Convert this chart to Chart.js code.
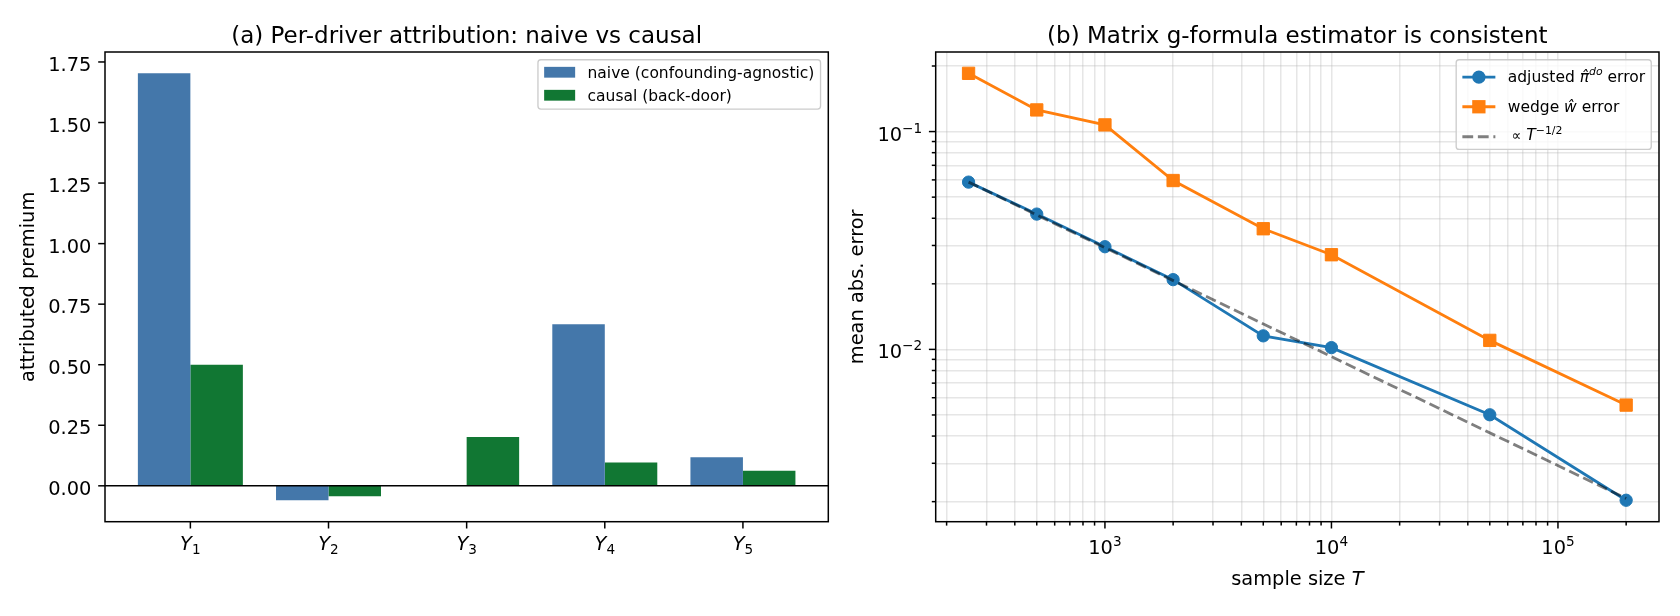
<!DOCTYPE html>
<html>
<head>
<meta charset="utf-8">
<script src="https://cdn.jsdelivr.net/npm/chart.js@4.4.0/dist/chart.umd.min.js"></script>
<style>
  body { margin: 0; background: #fff; width: 1680px; height: 616px; overflow: hidden; position: relative; }
  canvas { position: absolute; top: 0; }
  #left { left: 0; }
  #right { left: 840px; }
</style>
</head>
<body>
<canvas id="left" width="840" height="616"></canvas>
<canvas id="right" width="840" height="616"></canvas>
<script>
// (a) attribution per driver
const drivers = ['1', '2', '3', '4', '5'];
const naive = [1.703, -0.060, 0.0, 0.667, 0.118];
const causal = [0.500, -0.043, 0.202, 0.096, 0.062];
const premiumTicks = [0, 0.25, 0.5, 0.75, 1.0, 1.25, 1.5, 1.75];

// (b) estimator error vs sample size
const sampleSizes = [250, 500, 1000, 2000, 5000, 10000, 50000, 200000];
const adjustedErr = [0.0586, 0.0418, 0.0296, 0.0209, 0.01154, 0.01019, 0.00501, 0.00203];
const wedgeErr = [0.1851, 0.1257, 0.1073, 0.0596, 0.0358, 0.0272, 0.0110, 0.00555];
const refT = [250, 200000];
const refErr = [0.0586, 0.00207];
const xMajor = [1e3, 1e4, 1e5];
const xMajorExp = ['3', '4', '5'];
const yMajor = [1e-2, 1e-1];
const yMajorExp = ['\u22122', '\u22121'];

const FONT = 'DejaVu Sans';
const BASE = 19.4, SMALL = 13.6, LEG = 15.5;
const TICK = 6.8, MINOR = 3.9, LW = 1.5;

function font(sz, it) { return (it ? 'italic ' : '') + sz + 'px "' + FONT + '"'; }
function runsWidth(ctx, runs) {
    let w = 0;
    runs.forEach(r => { ctx.font = font(r.sz || BASE, r.it); w += ctx.measureText(r.t).width + (r.dx || 0); });
    return w;
}
function drawRuns(ctx, runs, x, y, align) {
    const w = runsWidth(ctx, runs);
    let cx = align === 'center' ? x - w / 2 : align === 'right' ? x - w : x;
    ctx.textAlign = 'left';
    ctx.textBaseline = 'alphabetic';
    runs.forEach(r => {
        ctx.font = font(r.sz || BASE, r.it);
        cx += r.dx || 0;
        ctx.fillText(r.t, cx, y + (r.dy || 0));
        cx += ctx.measureText(r.t).width;
    });
    return w;
}
function seg(ctx, x1, y1, x2, y2) { ctx.beginPath(); ctx.moveTo(x1, y1); ctx.lineTo(x2, y2); ctx.stroke(); }
const pow10 = e => [{ t: '10' }, { t: e, sz: SMALL, dy: -8 }];

// 1..9 per decade inside the range, flagged minor unless a major
function logTicks(min, max, majors) {
    const out = [];
    for (let d = Math.floor(Math.log10(min)); d <= Math.ceil(Math.log10(max)); d++) {
        for (let m = 1; m < 10; m++) {
            const v = m * Math.pow(10, d);
            if (v < min || v > max) continue;
            out.push({ value: v, minor: !majors.some(j => Math.abs(j - v) / j < 1e-9) });
        }
    }
    return out;
}

function drawLegend(ctx, chart, o) {
    const a = chart.chartArea, fs = o.fs;
    const maxw = Math.max(...o.rows.map(r => runsWidth(ctx, r.runs)));
    const w = 0.4 * fs + o.handle + 0.8 * fs + maxw + 0.4 * fs;
    const right = a.right - 0.5 * fs, top = a.top + 0.5 * fs, left = right - w;
    ctx.save();
    ctx.fillStyle = 'rgba(255,255,255,0.8)';
    ctx.strokeStyle = '#cccccc';
    ctx.lineWidth = 1.33;
    ctx.beginPath();
    ctx.roundRect(left, top, w, o.height, 3);
    ctx.fill();
    ctx.stroke();
    const hx0 = left + 0.4 * fs, hx1 = hx0 + o.handle, tx = hx1 + 0.8 * fs;
    o.rows.forEach(r => {
        const cy = top + r.dy;
        r.handle(ctx, hx0, hx1, cy);
        ctx.fillStyle = '#000';
        drawRuns(ctx, r.runs, tx, cy + r.base, 'left');
    });
    ctx.restore();
}

const mplFrame = {
    id: 'mplFrame',
    afterDatasetsDraw(chart, args, o) {
        if (!o.zeroLine) return;
        const ctx = chart.ctx, a = chart.chartArea;
        const y = chart.scales.y.getPixelForValue(0);
        ctx.save();
        ctx.strokeStyle = '#000';
        ctx.lineWidth = LW;
        seg(ctx, a.left, y, a.right, y);
        ctx.restore();
    },
    afterDraw(chart, args, o) {
        const ctx = chart.ctx, a = chart.chartArea;
        const xs = chart.scales.x, ys = chart.scales.y;
        ctx.save();
        ctx.strokeStyle = '#000';
        ctx.lineWidth = LW;
        ctx.strokeRect(a.left, a.top, a.right - a.left, a.bottom - a.top);
        xs.ticks.forEach(t => {
            const px = xs.getPixelForValue(t.value);
            seg(ctx, px, a.bottom, px, a.bottom + (t.minor ? MINOR : TICK));
        });
        ys.ticks.forEach(t => {
            const py = ys.getPixelForValue(t.value);
            seg(ctx, a.left, py, a.left - (t.minor ? MINOR : TICK), py);
        });
        ctx.fillStyle = '#000';
        o.xLabels.forEach(l => drawRuns(ctx, l.runs, xs.getPixelForValue(l.value), o.xLabelBase, 'center'));
        o.yLabels.forEach(l => drawRuns(ctx, l.runs, a.left - 2 * TICK, ys.getPixelForValue(l.value) + 9, 'right'));
        if (o.xTitle) drawRuns(ctx, o.xTitle, (a.left + a.right) / 2, 585, 'center');
        ctx.save();
        ctx.translate(o.yTitleX, (a.top + a.bottom) / 2);
        ctx.rotate(-Math.PI / 2);
        drawRuns(ctx, o.yTitle, 0, 0, 'center');
        ctx.restore();
        drawRuns(ctx, [{ t: o.title, sz: 23 }], (a.left + a.right) / 2, 42.5, 'center');
        if (o.legend) drawLegend(ctx, chart, o.legend);
        ctx.restore();
    }
};

// ---------- (a) bars ----------
const barW = 0.38;
const xPad = 0.05 * (drivers.length - 1 + 2 * barW);
new Chart(document.getElementById('left'), {
    type: 'bar',
    data: {
        datasets: [
            { label: 'naive (confounding-agnostic)', data: naive.map((v, i) => ({ x: i, y: v })),
              backgroundColor: '#4477AA', categoryPercentage: 2 * barW, barPercentage: 1 },
            { label: 'causal (back-door)', data: causal.map((v, i) => ({ x: i, y: v })),
              backgroundColor: '#117733', categoryPercentage: 2 * barW, barPercentage: 1 }
        ]
    },
    options: {
        responsive: false, animation: false, devicePixelRatio: 1,
        layout: { padding: { left: 0, right: 11.7, top: 52, bottom: 0 } },
        scales: {
            x: {
                type: 'linear', offset: false,
                min: -barW - xPad, max: drivers.length - 1 + barW + xPad,
                grid: { display: false, offset: false }, ticks: { display: false }, border: { display: false },
                afterBuildTicks: s => { s.ticks = drivers.map((d, i) => ({ value: i })); },
                afterFit: s => { s.height = 94.3; }
            },
            y: {
                min: -0.14815, max: 1.79115,
                grid: { display: false }, ticks: { display: false }, border: { display: false },
                afterBuildTicks: s => { s.ticks = premiumTicks.map(v => ({ value: v })); },
                afterFit: s => { s.width = 105; }
            }
        },
        plugins: {
            legend: { display: false },
            tooltip: { enabled: false },
            mplFrame: {
                zeroLine: true,
                title: '(a) Per-driver attribution: naive vs causal',
                xLabels: drivers.map((d, i) => ({ value: i, runs: [{ t: 'Y', it: true }, { t: d, sz: SMALL, dy: 4 }] })),
                xLabelBase: 549.7,
                yLabels: premiumTicks.map(v => ({ value: v, runs: [{ t: v.toFixed(2) }] })),
                yTitle: [{ t: 'attributed premium' }],
                yTitleX: 34,
                legend: {
                    fs: LEG, handle: 31, height: 49.3,
                    rows: [
                        { runs: [{ t: 'naive (confounding-agnostic)', sz: LEG }], dy: 12.5, base: 6,
                          handle: (ctx, x0, x1, cy) => { ctx.fillStyle = '#4477AA'; ctx.fillRect(x0, cy - 5.4, x1 - x0, 10.8); } },
                        { runs: [{ t: 'causal (back-door)', sz: LEG }], dy: 35.5, base: 6,
                          handle: (ctx, x0, x1, cy) => { ctx.fillStyle = '#117733'; ctx.fillRect(x0, cy - 5.4, x1 - x0, 10.8); } }
                    ]
                }
            }
        }
    },
    plugins: [mplFrame]
});

// ---------- (b) log-log error ----------
const BLUE = '#1f77b4', ORANGE = '#ff7f0e', REF = 'rgba(0,0,0,0.5)';
const DASH = [10.8, 4.7];
const xMin = 179.0, xMax = 279300, yMin = 0.001618, yMax = 0.2319;
const gridOpts = { color: 'rgba(176,176,176,0.32)', lineWidth: LW, drawTicks: false };

function lineHandle(color, dash, marker) {
    return (ctx, x0, x1, cy) => {
        ctx.save();
        ctx.strokeStyle = color;
        ctx.lineWidth = 2.8;
        ctx.setLineDash(dash);
        seg(ctx, x0, cy, x1, cy);
        ctx.setLineDash([]);
        const mx = (x0 + x1) / 2;
        ctx.fillStyle = color;
        if (marker === 'circle') { ctx.beginPath(); ctx.arc(mx, cy, 6.65, 0, 2 * Math.PI); ctx.fill(); }
        if (marker === 'rect') ctx.fillRect(mx - 6.65, cy - 6.65, 13.3, 13.3);
        ctx.restore();
    };
}

new Chart(document.getElementById('right'), {
    type: 'line',
    data: {
        datasets: [
            { label: 'adjusted', data: sampleSizes.map((t, i) => ({ x: t, y: adjustedErr[i] })),
              borderColor: BLUE, backgroundColor: BLUE, pointBorderColor: BLUE, borderWidth: 2.8,
              pointStyle: 'circle', pointRadius: 6.15, pointBorderWidth: 1, order: 3 },
            { label: 'wedge', data: sampleSizes.map((t, i) => ({ x: t, y: wedgeErr[i] })),
              borderColor: ORANGE, backgroundColor: ORANGE, pointBorderColor: ORANGE, borderWidth: 2.8,
              pointStyle: 'rect', pointRadius: 8.7, pointBorderWidth: 1, order: 2 },
            { label: 'ref', data: refT.map((t, i) => ({ x: t, y: refErr[i] })),
              borderColor: REF, borderDash: DASH, borderWidth: 2.8, pointRadius: 0, order: 1 }
        ]
    },
    options: {
        responsive: false, animation: false, devicePixelRatio: 1,
        layout: { padding: { left: 0, right: 21, top: 52, bottom: 0 } },
        scales: {
            x: {
                type: 'logarithmic', min: xMin, max: xMax,
                grid: gridOpts, ticks: { display: false }, border: { display: false },
                afterBuildTicks: s => { s.ticks = logTicks(xMin, xMax, xMajor); },
                afterFit: s => { s.height = 94.3; }
            },
            y: {
                type: 'logarithmic', min: yMin, max: yMax,
                grid: gridOpts, ticks: { display: false }, border: { display: false },
                afterBuildTicks: s => { s.ticks = logTicks(yMin, yMax, yMajor); },
                afterFit: s => { s.width = 95.7; }
            }
        },
        plugins: {
            legend: { display: false },
            tooltip: { enabled: false },
            mplFrame: {
                title: '(b) Matrix g-formula estimator is consistent',
                xLabels: xMajor.map((v, i) => ({ value: v, runs: pow10(xMajorExp[i]) })),
                xLabelBase: 553.5,
                yLabels: yMajor.map((v, i) => ({ value: v, runs: pow10(yMajorExp[i]) })),
                xTitle: [{ t: 'sample size ' }, { t: 'T', it: true }],
                yTitle: [{ t: 'mean abs. error' }],
                yTitleX: 23,
                legend: {
                    fs: LEG, handle: 33, height: 89.7,
                    rows: [
                        { runs: [{ t: 'adjusted ', sz: LEG }, { t: '\u03c0\u0302', it: true, sz: LEG }, { t: 'do', it: true, sz: 10.9, dy: -6.5 }, { t: ' error', sz: LEG }],
                          dy: 17.4, base: 4.8, handle: lineHandle(BLUE, [], 'circle') },
                        { runs: [{ t: 'wedge ', sz: LEG }, { t: '\u0175', it: true, sz: LEG }, { t: ' error', sz: LEG }],
                          dy: 47, base: 5, handle: lineHandle(ORANGE, [], 'rect') },
                        { runs: [{ t: '\u221d', sz: 13.5, dx: 4 }, { t: ' ', sz: LEG }, { t: 'T', it: true, sz: LEG }, { t: '\u22121/2', sz: 10.9, dy: -6.5 }],
                          dy: 77, base: 3.5, handle: lineHandle(REF, DASH, null) }
                    ]
                }
            }
        }
    },
    plugins: [mplFrame]
});
</script>
</body>
</html>
